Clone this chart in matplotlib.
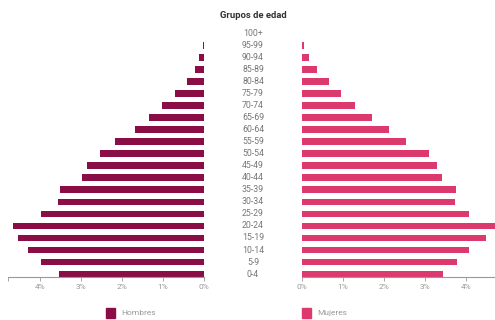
import matplotlib.pyplot as plt
from matplotlib.patches import Rectangle

# Age groups, bottom to top
grupos = ['0-4', '5-9', '10-14', '15-19', '20-24', '25-29', '30-34', '35-39',
          '40-44', '45-49', '50-54', '55-59', '60-64', '65-69', '70-74',
          '75-79', '80-84', '85-89', '90-94', '95-99', '100+']

# Percent of population
hombres = [3.54, 3.98, 4.28, 4.53, 4.65, 3.97, 3.56, 3.51, 2.98, 2.85, 2.54,
           2.17, 1.68, 1.33, 1.02, 0.71, 0.42, 0.23, 0.11, 0.03, 0.01]
mujeres = [3.43, 3.78, 4.08, 4.49, 4.78, 4.07, 3.73, 3.76, 3.41, 3.29, 3.09,
           2.55, 2.13, 1.70, 1.29, 0.95, 0.66, 0.37, 0.16, 0.06, 0.01]

ticks = [0, 1, 2, 3, 4]
tick_labels = ['0%', '1%', '2%', '3%', '4%']

c_h = '#8a0e45'
c_m = '#dc3a6e'
gray = '#999999'

plt.rcParams['font.family'] = ['Roboto', 'DejaVu Sans']

fig = plt.figure(figsize=(4.95, 3.2), dpi=100)
ax_l = fig.add_axes([0.016, 0.134, 0.396, 0.781])
ax_r = fig.add_axes([0.610, 0.134, 0.390, 0.781])

y = range(len(grupos))
ax_l.barh(y, hombres, height=0.55, color=c_h)
ax_r.barh(y, mujeres, height=0.55, color=c_m)

ax_l.set_xlim(4.78, 0)
ax_r.set_xlim(0, 4.71)

for ax in (ax_l, ax_r):
    ax.set_ylim(-0.25, 20.5)
    ax.set_yticks([])
    for s in ('top', 'right', 'left'):
        ax.spines[s].set_visible(False)
    ax.spines['bottom'].set_color('#999999')
    ax.spines['bottom'].set_linewidth(0.8)
    ax.set_xticks(ticks)
    ax.set_xticklabels(tick_labels)
    ax.tick_params(axis='x', colors='#999999', labelcolor=gray, labelsize=6,
                   length=3, width=0.6, pad=2)

# Minor end tick on the far left
ax_l.set_xticks([4.78], minor=True)
ax_l.tick_params(axis='x', which='minor', length=3, width=0.6, colors='#999999')

# Age labels in the middle
for i, g in enumerate(grupos):
    yy = ax_l.transData.transform((0, i))[1]
    fy = fig.transFigure.inverted().transform((0, yy))[1]
    fig.text(0.511, fy, g, ha='center', va='center', fontsize=6.3, color='#777777')

fig.text(0.511, 0.953, 'Grupos de edad', ha='center', va='center',
         fontsize=6.8, fontweight='bold', color='#333333')

# Legend
fig.patches.append(Rectangle((0.214, 0.007), 0.018, 0.03, color=c_h,
                             transform=fig.transFigure, figure=fig))
fig.text(0.244, 0.022, 'Hombres', ha='left', va='center', fontsize=6, color=gray)
fig.patches.append(Rectangle((0.610, 0.007), 0.018, 0.03, color=c_m,
                             transform=fig.transFigure, figure=fig))
fig.text(0.640, 0.022, 'Mujeres', ha='left', va='center', fontsize=6, color=gray)

fig.savefig('out.png', dpi=100)
